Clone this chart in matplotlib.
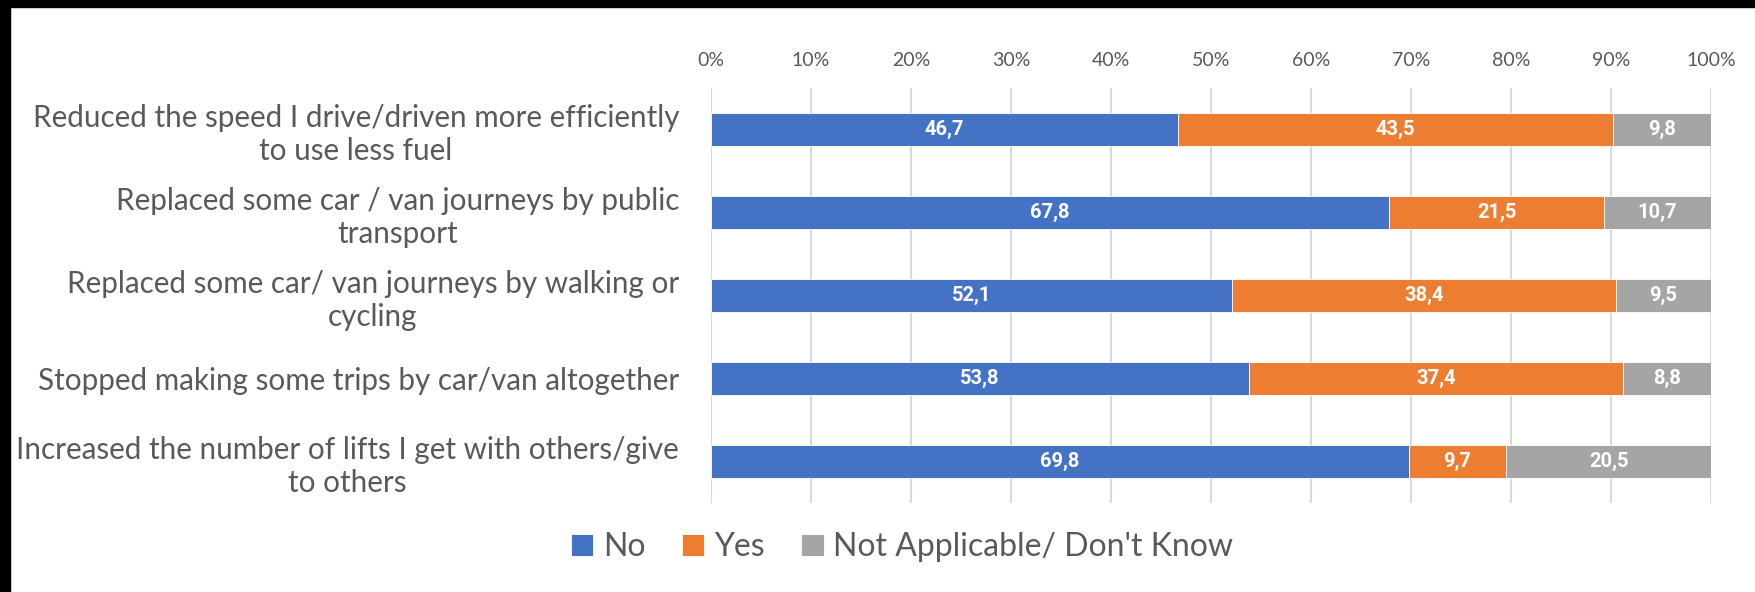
import matplotlib
matplotlib.use("Agg")
import matplotlib.pyplot as plt
from matplotlib.patches import Rectangle

# --[data]---------------------------------------------------------------------
categories = [
    "Reduced the speed I drive/driven more efficiently\nto use less fuel",
    "Replaced some car / van journeys by public\ntransport",
    "Replaced some car/ van journeys by walking or\ncycling",
    "Stopped making some trips by car/van altogether",
    "Increased the number of lifts I get with others/give\nto others",
]
series_names = ["No", "Yes", "Not Applicable/ Don't Know"]
no_vals = [46.7, 67.8, 52.1, 53.8, 69.8]
yes_vals = [43.5, 21.5, 38.4, 37.4, 9.7]
na_vals = [9.8, 10.7, 9.5, 8.8, 20.5]
colors = ["#4472C4", "#ED7D31", "#A5A5A5"]
tick_vals = list(range(0, 101, 10))
tick_labels = ["{}%".format(t) for t in tick_vals]

plt.rcParams["font.family"] = ["Lato", "DejaVu Sans"]
text_gray = "#595959"

# --[figure]-------------------------------------------------------------------
fig = plt.figure(figsize=(17.56, 5.92), dpi=100)
ax = fig.add_axes([0.4049, 0.1503, 0.5695, 0.7010])

y = list(range(len(categories)))
left = [0.0] * len(categories)
for name, vals, col in zip(series_names, [no_vals, yes_vals, na_vals], colors):
    bars = ax.barh(y, vals, left=left, height=0.4, color=col, label=name,
                   edgecolor="white", linewidth=0.6, zorder=3)
    for b, v in zip(bars, vals):
        ax.text(b.get_x() + b.get_width() / 2, b.get_y() + b.get_height() / 2,
                "{:.1f}".format(v).replace(".", ","), ha="center", va="center",
                color="white", fontsize=14.5, fontweight="bold",
                family=["Roboto", "DejaVu Sans"], zorder=4)
    left = [l + v for l, v in zip(left, vals)]

ax.set_xlim(0, 100)
ax.set_ylim(len(categories) - 0.5, -0.5)
ax.set_xticks(tick_vals)
ax.set_xticklabels(tick_labels)
ax.xaxis.tick_top()
ax.tick_params(axis="x", length=0, pad=14, labelsize=14, labelcolor=text_gray)
ax.set_yticks(y)
ax.set_yticklabels(categories, multialignment="center")
ax.tick_params(axis="y", length=0, pad=23, labelsize=21.3, labelcolor=text_gray)
ax.grid(axis="x", color="#D9D9D9", linewidth=1.5, zorder=0)
for s in ax.spines.values():
    s.set_visible(False)

fig.legend(loc="center", bbox_to_anchor=(0.5137, 0.076), ncol=3, frameon=False,
           fontsize=23, labelcolor=text_gray, handlelength=0.7, handleheight=0.7,
           handletextpad=0.3, columnspacing=1.15)

# black border strips along the top and left edges
fig.patches.append(Rectangle((0, 1 - 7 / 592), 1, 7 / 592, transform=fig.transFigure,
                             color="black", zorder=10))
fig.patches.append(Rectangle((0, 0), 10 / 1756, 1, transform=fig.transFigure,
                             color="black", zorder=10))

fig.savefig("out.png", dpi=100)
